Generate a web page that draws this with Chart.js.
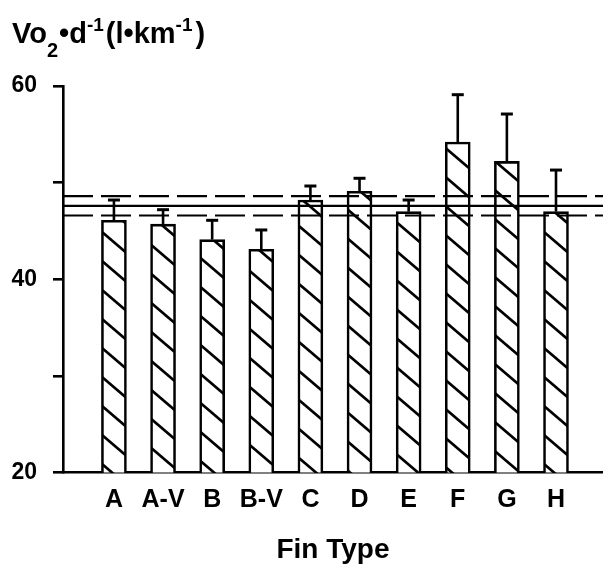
<!DOCTYPE html>
<html><head><meta charset="utf-8">
<script src="https://cdn.jsdelivr.net/npm/chart.js@4"></script>
<style>html,body{margin:0;padding:0;background:#fff;overflow:hidden}</style>
</head><body>
<canvas id="c" width="603" height="569"></canvas>
<script>
// ---- data ----
const finTypes = ['A', 'A-V', 'B', 'B-V', 'C', 'D', 'E', 'F', 'G', 'H'];
const meanVo2 = [46.1, 45.7, 44.1, 43.1, 48.2, 49.1, 47.0, 54.2, 52.2, 47.0];
const sdVo2 = [2.1, 1.5, 2.0, 2.0, 1.45, 1.35, 1.2, 4.9, 4.9, 4.3];
const overallMean = [47.6];
const overallBand = [46.6, 48.6];
const yTickValues = [20, 30, 40, 50, 60];
const yTickLabels = ['20', '', '40', '', '60'];
const xAxisTitle = 'Fin Type';

const FONT = '"Liberation Sans", Arial, Helvetica, sans-serif';
const X_MIN = -1.037, X_MAX = 9.957;

// hatch pattern
function makeHatch() {
  const W = 34, H = 29;
  const t = document.createElement('canvas');
  t.width = W; t.height = H;
  const g = t.getContext('2d');
  g.fillStyle = '#fff'; g.fillRect(0, 0, W, H);
  g.strokeStyle = '#000'; g.lineWidth = 2.7;
  for (let k = -1; k <= 1; k++) {
    g.beginPath();
    g.moveTo(-2, -2 * H / W + k * H);
    g.lineTo(W + 2, (W + 2) * H / W + k * H);
    g.stroke();
  }
  return t;
}
const ctx = document.getElementById('c').getContext('2d');
const hatch = ctx.createPattern(makeHatch(), 'repeat');

const errorBars = {
  id: 'errorBars',
  afterDatasetsDraw(chart) {
    const xs = chart.scales.x, ys = chart.scales.y, c = chart.ctx;
    c.save();
    c.strokeStyle = '#000';
    meanVo2.forEach((m, i) => {
      const x = xs.getPixelForValue(i);
      const y0 = ys.getPixelForValue(m);
      const y1 = ys.getPixelForValue(m + sdVo2[i]);
      c.lineWidth = 2.6;
      c.beginPath(); c.moveTo(x, y0); c.lineTo(x, y1); c.stroke();
      c.lineWidth = 3;
      c.beginPath(); c.moveTo(x - 6, y1); c.lineTo(x + 6, y1); c.stroke();
    });
    c.restore();
  }
};

const titlePlugin = {
  id: 'yTitle',
  afterDraw(chart) {
    const c = chart.ctx;
    c.save();
    c.fillStyle = '#000';
    c.textBaseline = 'alphabetic';
    let x = 12;
    const base = 43;
    const parts = [
      ['Vo', 29, 0, 0], ['2', 20, 14, 1], ['\u2022d', 29, 0, 0], ['-1', 19, -12, 2],
      ['(l\u2022km', 29, 0, 0], ['-1', 19, -12, 3], [')', 29, 0, 0]
    ];
    parts.forEach(([t, s, dy, gap]) => {
      c.font = 'bold ' + s + 'px ' + FONT;
      c.fillText(t, x, base + dy);
      x += c.measureText(t).width + gap;
    });
    c.restore();
  }
};

const barData = meanVo2.map((v, i) => ({ x: i, y: v }));
const refLine = (v) => [{ x: X_MIN, y: v }, { x: X_MAX, y: v }];

new Chart(ctx, {
  type: 'bar',
  data: {
    datasets: [
      { type: 'line', data: refLine(overallMean[0]), borderColor: '#000', borderWidth: 2.2, pointRadius: 0, order: 0, clip: false },
      { type: 'line', data: refLine(overallBand[0]), borderColor: '#000', borderWidth: 2.2, borderDash: [30, 8], pointRadius: 0, order: 0, clip: false },
      { type: 'line', data: refLine(overallBand[1]), borderColor: '#000', borderWidth: 2.2, borderDash: [30, 8], pointRadius: 0, order: 0, clip: false },
      { type: 'bar', data: barData, backgroundColor: hatch, borderColor: '#000', borderWidth: 2.6, barThickness: 25, borderSkipped: false, order: 1 }
    ]
  },
  options: {
    responsive: false,
    animation: false,
    devicePixelRatio: 1,
    layout: { padding: { top: 86, right: 0, left: 0, bottom: 0 } },
    plugins: { legend: { display: false }, tooltip: { enabled: false } },
    scales: {
      x: {
        type: 'linear', min: X_MIN, max: X_MAX, offset: false,
        afterBuildTicks(s) { s.ticks = finTypes.map((_, i) => ({ value: i })); },
        afterFit(s) { s.height = 96.5; },
        ticks: {
          callback: (v) => finTypes[v] ?? '',
          color: '#000', font: { family: FONT, size: 25, weight: 'bold' }, padding: 13, maxRotation: 0, autoSkip: false
        },
        grid: { display: true, offset: false, drawOnChartArea: false, drawTicks: false },
        border: { display: true, color: '#000', width: 2.6 },
        title: { display: true, text: xAxisTitle, color: '#000', font: { family: FONT, size: 28, weight: 'bold' }, padding: { top: 0, bottom: 2 } }
      },
      y: {
        min: 20, max: 60,
        afterBuildTicks(s) { s.ticks = yTickValues.map(v => ({ value: v })); },
        afterFit(s) { s.width = 63; },
        ticks: {
          callback: (v) => yTickLabels[yTickValues.indexOf(v)],
          color: '#000', font: { family: FONT, size: 23, weight: 'bold' }, padding: 16
        },
        grid: { display: true, drawOnChartArea: false, drawTicks: true, tickLength: 10, color: '#000', lineWidth: 2.6 },
        border: { display: true, color: '#000', width: 2.6 }
      }
    }
  },
  plugins: [errorBars, titlePlugin]
});
</script>
</body></html>
